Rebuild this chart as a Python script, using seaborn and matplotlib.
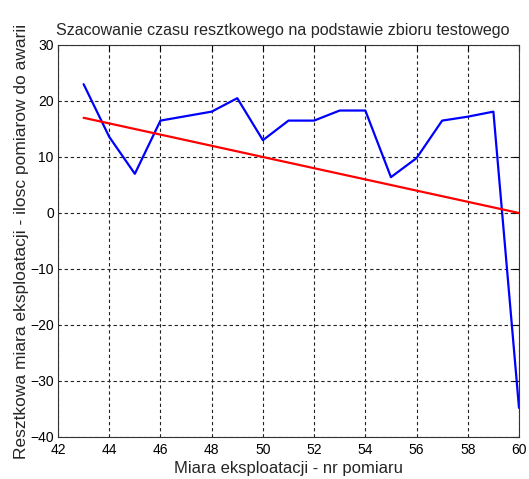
import matplotlib
matplotlib.use("Agg")
import matplotlib.pyplot as plt
import seaborn as sns
import pandas as pd

x_vals = [43, 44, 45, 46, 47, 48, 49, 50, 51, 52, 53, 54, 55, 56, 57, 58, 59, 60]
blue_vals = [23.0, 13.6, 7.0, 16.5, 17.3, 18.1, 20.5, 13.0, 16.5, 16.5, 18.3, 18.3,
             6.4, 9.8, 16.5, 17.2, 18.1, -34.8]
red_vals = [17, 16, 15, 14, 13, 12, 11, 10, 9, 8, 7, 6, 5, 4, 3, 2, 1, 0]
x_ticks = [42, 44, 46, 48, 50, 52, 54, 56, 58, 60]
y_ticks = [-40, -30, -20, -10, 0, 10, 20, 30]

sns.set_style("white")
plt.rcParams['font.family'] = ['Liberation Sans', 'DejaVu Sans']

df = pd.DataFrame({"x": x_vals, "blue": blue_vals, "red": red_vals})

fig = plt.figure(figsize=(5.29, 4.79), dpi=100)
ax = fig.add_axes([58/529, 1-437/479, (519-58)/529, (437-45)/479])

sns.lineplot(data=df, x="x", y="blue", ax=ax, color="#0000ff", lw=1.6)
sns.lineplot(data=df, x="x", y="red", ax=ax, color="#ff0000", lw=1.6)

ax.set_xlim(42, 60)
ax.set_ylim(-40, 30)
ax.set_xticks(x_ticks)
ax.set_yticks(y_ticks)
ax.tick_params(direction="in", top=True, right=True, length=4, width=0.8,
               labelsize=10, colors="black")
ax.tick_params(axis="x", pad=4)
ax.tick_params(axis="y", pad=3)
ax.grid(True, color="#222222", linestyle=(0, (3, 2.5)), linewidth=0.8)
for s in ax.spines.values():
    s.set_color("#333333")
    s.set_linewidth(0.8)

ax.set_title("Szacowanie czasu resztkowego na podstawie zbioru testowego",
             fontsize=11.6, pad=7, x=0.487)
ax.set_xlabel("Miara eksploatacji - nr pomiaru", fontsize=12, labelpad=3)
ax.set_ylabel("Resztkowa miara eksploatacji - ilosc pomiarow do awarii", fontsize=12.5, labelpad=1)

fig.savefig("out.png", dpi=100)
